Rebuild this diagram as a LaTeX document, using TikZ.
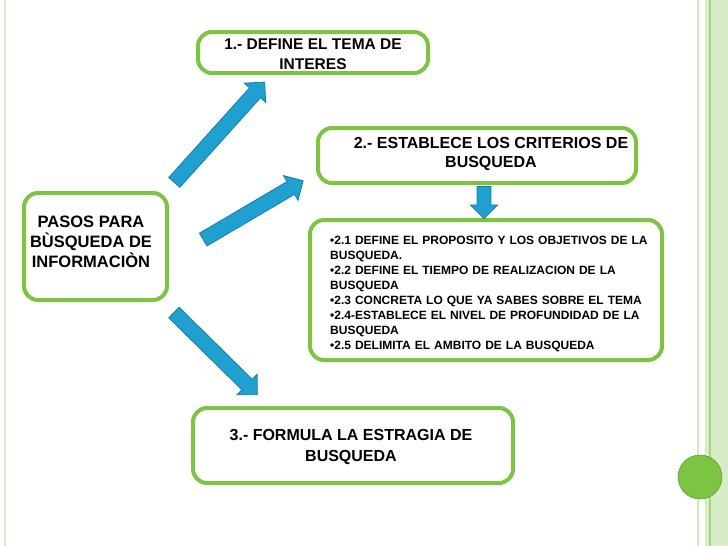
\documentclass[tikz,border=0pt]{standalone}
\usepackage{fontspec}
\setmainfont{Liberation Sans}
\usetikzlibrary{shapes.arrows}
\definecolor{gr}{HTML}{7DC443}
\definecolor{bl}{HTML}{1FA0D0}
\definecolor{bld}{HTML}{1680A8}
\tikzset{
  gbox/.style={draw=gr, line width=4pt, rounded corners=14pt, fill=white},
  fat/.style={single arrow, draw=bld, fill=bl, line width=0.8pt, minimum width=28pt,
     single arrow head extend=7pt, single arrow head indent=0pt, inner xsep=0pt, inner ysep=7pt, minimum height=#1},
  txt/.style={font=\bfseries, align=center}
}
\begin{document}
\begin{tikzpicture}[x=1pt,y=-1pt]
\useasboundingbox (0,0) rectangle (728,546);
\fill[gr!30] (4,0) rectangle (6,546);
\fill[gr!35] (697,0) rectangle (699,546);
\fill[gr!30] (705,0) rectangle (728,546);
\fill[gr!70] (709,0) rectangle (711,546);
\node[gbox, minimum width=230pt, minimum height=41pt] (b1) at (313,52.5) {};
\node[txt, font=\bfseries\fontsize{15.5}{20}\selectfont] at (313,54) {1.- DEFINE EL TEMA  DE\\INTERES};
\node[gbox, minimum width=318pt, minimum height=55pt] (b2) at (477,155.5) {};
\node[txt, font=\bfseries\fontsize{16}{19}\selectfont] at (491,154) {2.- ESTABLECE LOS CRITERIOS DE\\BUSQUEDA};
\node[gbox, minimum width=143pt, minimum height=107pt] (b0) at (95.5,246.5) {};
\node[txt, font=\bfseries\fontsize{16.5}{20}\selectfont] at (91,242) {PASOS PARA\\BÙSQUEDA DE\\INFORMACIÒN};
\node[gbox, minimum width=352pt, minimum height=140pt] (b21) at (486,290) {};
\node[font=\bfseries\fontsize{12}{15}\selectfont, align=left, text width=340pt, anchor=north west, inner sep=0pt] at (330,236) {%
•2.1 DEFINE EL PROPOSITO Y LOS OBJETIVOS DE LA\\BUSQUEDA.\\
•2.2 DEFINE EL TIEMPO DE REALIZACION DE LA\\BUSQUEDA\\
•2.3 CONCRETA LO QUE YA SABES SOBRE EL TEMA\\
•2.4-ESTABLECE EL NIVEL DE PROFUNDIDAD DE LA\\BUSQUEDA\\
•2.5 DELIMITA EL AMBITO DE LA BUSQUEDA};
\node[gbox, minimum width=320pt, minimum height=75pt] (b3) at (353,445.5) {};
\node[txt, font=\bfseries\fontsize{16}{21}\selectfont] at (351,447) {3.- FORMULA LA ESTRAGIA DE\\BUSQUEDA};
\node[fat=135pt, rotate=48] (a1) at (217,135) {};
\node[fat=116pt, rotate=30.5] (a2) at (250,212) {};
\node[fat=117pt, rotate=-44.6] (a3) at (213,351) {};
\node[fat=32pt, rotate=-90, minimum width=27pt, single arrow head extend=6pt, inner ysep=6pt] (a4) at (484,199) {};
\node[circle, fill=gr, draw=gr!80!black, line width=0.6pt, minimum size=44pt] (c) at (700,477) {};
\end{tikzpicture}
\end{document}
